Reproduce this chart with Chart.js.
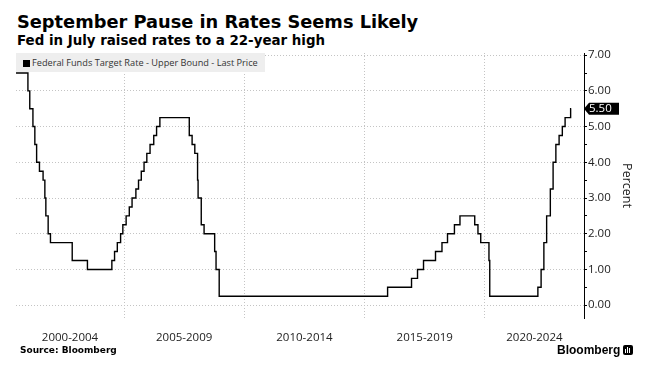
<!DOCTYPE html>
<html lang="en">
<head>
    <meta charset="UTF-8">
    <title>September Pause in Rates Seems Likely</title>
    <script src="https://cdn.jsdelivr.net/npm/chart.js"></script>
    <style>
        body {
            margin: 0;
            width: 646px;
            height: 373px;
            background: #fff;
            position: relative;
            overflow: hidden;
        }
        canvas {
            position: absolute;
            left: 0;
            top: 0;
        }
        .title {
            position: absolute;
            left: 17px;
            top: 13px;
            font: bold 17.8px "DejaVu Sans", sans-serif;
            line-height: 18px;
            color: #000;
            white-space: nowrap;
        }
        .subtitle {
            position: absolute;
            left: 17px;
            top: 34px;
            font: bold 13.4px "DejaVu Sans", sans-serif;
            line-height: 13px;
            color: #000;
            white-space: nowrap;
        }
        .legend {
            position: absolute;
            left: 16px;
            top: 53px;
            width: 249px;
            height: 19px;
            background: #eeeeee;
            font: 9.2px "Open Sans", sans-serif;
            line-height: 19px;
            color: #333;
            white-space: nowrap;
        }
        .legend .box {
            display: inline-block;
            width: 7px;
            height: 7px;
            background: #000;
            margin: 0 2px 0 7px;
            vertical-align: -0.5px;
        }
        .source {
            position: absolute;
            left: 20px;
            top: 346px;
            font: bold 9px "DejaVu Sans", sans-serif;
            line-height: 9px;
            color: #000;
        }
        .brand {
            position: absolute;
            left: 557px;
            top: 344px;
            font: bold 12px "Liberation Sans", sans-serif;
            line-height: 12px;
            color: #000;
        }
        .logo {
            position: absolute;
            left: 623px;
            top: 345px;
            width: 10px;
            height: 10px;
            border-radius: 2px;
            background: #000;
        }
        .logo span {
            position: absolute;
            bottom: 2px;
            width: 1px;
            background: #fff;
        }
    </style>
</head>
<body>
    <div class="title">September Pause in Rates Seems Likely</div>
    <div class="subtitle">Fed in July raised rates to a 22-year high</div>
    <canvas id="rateChart" width="646" height="373"></canvas>
    <div class="legend"><span class="box"></span><span id="legendText"></span></div>
    <div class="source">Source: Bloomberg</div>
    <div class="brand">Bloomberg</div>
    <div class="logo">
        <span style="left:2px;height:4px"></span>
        <span style="left:4px;height:6px"></span>
        <span style="left:6px;height:5px"></span>
    </div>
    <script>
        // Ряд: дата зміни ставки та нове значення (верхня межа, %)
        const seriesName = 'Federal Funds Target Rate - Upper Bound - Last Price';
        const changeDates = [
            '2000-07-06', '2001-01-03', '2001-01-31', '2001-03-20', '2001-04-18', '2001-05-15',
            '2001-06-27', '2001-08-21', '2001-09-17', '2001-10-02', '2001-11-06', '2001-12-11',
            '2002-11-06', '2003-06-25', '2004-06-30', '2004-08-10', '2004-09-21', '2004-11-10',
            '2004-12-14', '2005-02-02', '2005-03-22', '2005-05-03', '2005-06-30', '2005-08-09',
            '2005-09-20', '2005-11-01', '2005-12-13', '2006-01-31', '2006-03-28', '2006-05-10',
            '2006-06-29', '2007-09-18', '2007-10-31', '2007-12-11', '2008-01-22', '2008-01-30',
            '2008-03-18', '2008-04-30', '2008-10-08', '2008-10-29', '2008-12-16', '2015-12-16',
            '2016-12-14', '2017-03-15', '2017-06-14', '2017-12-13', '2018-03-21', '2018-06-13',
            '2018-09-26', '2018-12-19', '2019-07-31', '2019-09-18', '2019-10-30', '2020-03-03',
            '2020-03-15', '2022-03-16', '2022-05-04', '2022-06-15', '2022-07-27', '2022-09-21',
            '2022-11-02', '2022-12-14', '2023-02-01', '2023-03-22', '2023-05-03', '2023-07-26',
            '2023-08-04'
        ];
        const rates = [
            6.50, 6.00, 5.50, 5.00, 4.50, 4.00,
            3.75, 3.50, 3.00, 2.50, 2.00, 1.75,
            1.25, 1.00, 1.25, 1.50, 1.75, 2.00,
            2.25, 2.50, 2.75, 3.00, 3.25, 3.50,
            3.75, 4.00, 4.25, 4.50, 4.75, 5.00,
            5.25, 4.75, 4.50, 4.25, 3.50, 3.00,
            2.25, 2.00, 1.50, 1.00, 0.25, 0.50,
            0.75, 1.00, 1.25, 1.50, 1.75, 2.00,
            2.25, 2.50, 2.25, 2.00, 1.75, 1.25,
            0.25, 0.50, 1.00, 1.75, 2.50, 3.25,
            4.00, 4.50, 4.75, 5.00, 5.25, 5.50,
            5.50
        ];

        // Підписи осі X (п'ятирічні періоди) та поділки осі Y
        const periodLabels = ['2000-2004', '2005-2009', '2010-2014', '2015-2019', '2020-2024'];
        const periodStarts = [2000, 2005, 2010, 2015, 2020];
        const yTickValues = [0, 0.5, 1, 1.5, 2, 2.5, 3, 3.5, 4, 4.5, 5, 5.5, 6, 6.5, 7];

        const xMin = 2000.51;
        const xMax = 2024.12;
        const yMin = -0.36;
        const yMax = 7.06;

        function toYear(s) {
            const [y, m, d] = s.split('-').map(Number);
            const start = Date.UTC(y, 0, 1);
            const end = Date.UTC(y + 1, 0, 1);
            return y + (Date.UTC(y, m - 1, d) - start) / (end - start);
        }

        const points = changeDates.map((d, i) => ({ x: toYear(d), y: rates[i] }));
        const dividers = periodStarts.filter(v => v > xMin && v < xMax);
        const labelCenters = periodStarts.map(s => (Math.max(s, xMin) + Math.min(s + 5, xMax)) / 2);

        document.getElementById('legendText').textContent = seriesName;

        // Чорна мітка з останнім значенням біля правої осі
        const lastPriceTag = {
            id: 'lastPriceTag',
            afterDraw(chart) {
                const { ctx, chartArea, scales } = chart;
                const v = rates[rates.length - 1];
                const py = scales.y.getPixelForValue(v);
                const x0 = chartArea.right;
                ctx.save();
                ctx.fillStyle = '#000';
                ctx.beginPath();
                ctx.moveTo(x0, py);
                ctx.lineTo(x0 + 5, py - 6);
                ctx.lineTo(x0 + 35, py - 6);
                ctx.lineTo(x0 + 35, py + 6);
                ctx.lineTo(x0 + 5, py + 6);
                ctx.closePath();
                ctx.fill();
                ctx.fillStyle = '#fff';
                ctx.font = '11.5px "Open Sans"';
                ctx.textAlign = 'left';
                ctx.textBaseline = 'middle';
                ctx.fillText(v.toFixed(2), x0 + 5, py + 0.5);
                ctx.restore();
            }
        };

        const axisFont = { family: 'Open Sans', size: 11.5 };

        new Chart(document.getElementById('rateChart'), {
            type: 'line',
            data: {
                datasets: [{
                    label: seriesName,
                    data: points,
                    stepped: true,
                    borderColor: '#000',
                    borderWidth: 1.4,
                    pointRadius: 0,
                    fill: false
                }]
            },
            options: {
                responsive: false,
                animation: false,
                layout: { padding: { left: 16, top: 53, right: 0, bottom: 0 } },
                plugins: {
                    legend: { display: false },
                    tooltip: { enabled: false }
                },
                scales: {
                    x: {
                        type: 'linear',
                        position: 'bottom',
                        min: xMin,
                        max: xMax,
                        afterBuildTicks: s => { s.ticks = dividers.map(v => ({ value: v })); },
                        afterFit: s => { s.height = 0; },
                        ticks: { display: false },
                        grid: { color: '#c4c4c4', drawTicks: false },
                        border: { display: false, dash: [1, 2] }
                    },
                    xLabels: {
                        type: 'linear',
                        position: 'bottom',
                        min: xMin,
                        max: xMax,
                        afterBuildTicks: s => { s.ticks = labelCenters.map(v => ({ value: v })); },
                        afterFit: s => { s.height = 55; },
                        ticks: {
                            callback: (v, i) => periodLabels[i],
                            autoSkip: false,
                            maxRotation: 0,
                            padding: 5,
                            font: axisFont,
                            color: '#222'
                        },
                        grid: { display: false },
                        border: { display: false }
                    },
                    y: {
                        position: 'right',
                        min: yMin,
                        max: yMax,
                        afterBuildTicks: s => { s.ticks = yTickValues.map(v => ({ value: v })); },
                        afterFit: s => { s.width = 62; },
                        ticks: {
                            callback: v => (Number.isInteger(v) ? v.toFixed(2) : ''),
                            padding: 1,
                            font: axisFont,
                            color: '#222'
                        },
                        grid: {
                            color: c => (c.tick && !Number.isInteger(c.tick.value) ? 'rgba(0,0,0,0)' : '#c4c4c4'),
                            tickColor: '#000',
                            tickLength: 3
                        },
                        border: { display: true, color: '#000', width: 1, dash: [1, 2] },
                        title: {
                            display: true,
                            text: 'Percent',
                            font: { family: 'Open Sans', size: 12.5 },
                            color: '#222',
                            padding: { top: 12, bottom: 0 }
                        }
                    }
                }
            },
            plugins: [lastPriceTag]
        });
    </script>
</body>
</html>
